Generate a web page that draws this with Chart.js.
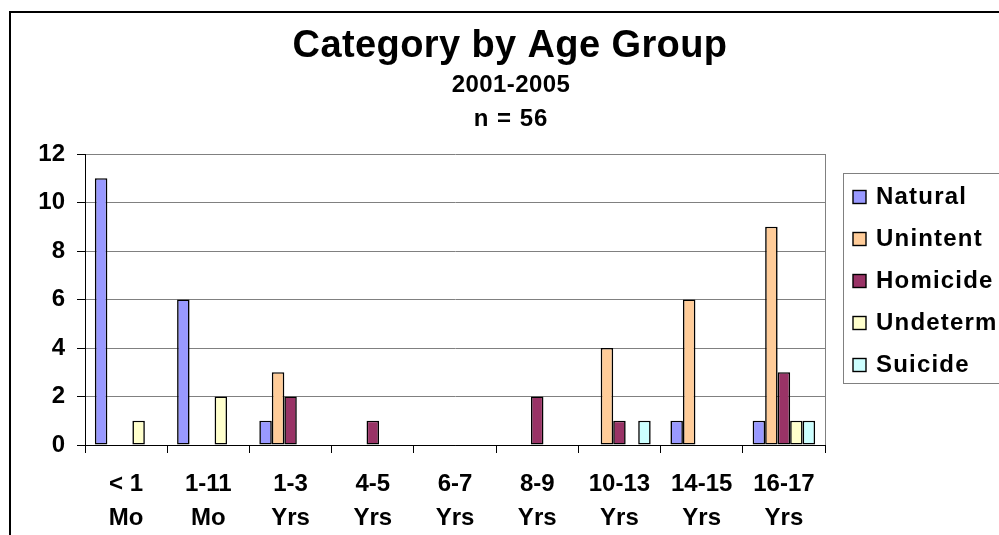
<!DOCTYPE html>
<html>
<head>
<meta charset="utf-8">
<title>Category by Age Group</title>
<script src="https://cdn.jsdelivr.net/npm/chart.js@4/dist/chart.umd.min.js"></script>
<style>
  html, body { margin: 0; padding: 0; background: #fff; overflow: hidden; }
  #wrap { width: 1020px; height: 535px; }
</style>
</head>
<body>
<div id="wrap"><canvas id="chart" width="1020" height="535"></canvas></div>
<script>
// Age groups (two-line axis labels)
const ageGroups = [
  ['< 1', 'Mo'], ['1-11', 'Mo'], ['1-3', 'Yrs'], ['4-5', 'Yrs'], ['6-7', 'Yrs'],
  ['8-9', 'Yrs'], ['10-13', 'Yrs'], ['14-15', 'Yrs'], ['16-17', 'Yrs']
];

// Deaths per manner, by age group
const natural   = [11, 6, 1, 0, 0, 0, 0, 1, 1];
const unintent  = [0, 0, 3, 0, 0, 0, 4, 6, 9];
const homicide  = [0, 0, 2, 1, 0, 2, 1, 0, 3];
const undeterm  = [1, 2, 0, 0, 0, 0, 0, 0, 1];
const suicide   = [0, 0, 0, 0, 0, 0, 1, 0, 1];

const seriesNames = ['Natural', 'Unintent', 'Homicide', 'Undeterm', 'Suicide'];
const seriesColors = ['#9999FF', '#FFCC99', '#993366', '#FFFFCC', '#CCFFFF'];

const yMax = 12;
const yStep = 2;

const titleText = 'Category by Age Group';
const subtitleLines = ['2001-2005', 'n = 56'];

const FONT = '"Liberation Sans", Arial, sans-serif';

const datasets = [natural, unintent, homicide, undeterm, suicide].map((values, i) => ({
  label: seriesNames[i],
  data: values,
  backgroundColor: seriesColors[i],
  borderColor: '#000',
  borderWidth: 1.6,
  borderSkipped: false,
  categoryPercentage: 0.76,
  barPercentage: 1.0
}));

// Frame, headings, plot outline and boxed legend
const decorations = {
  id: 'decorations',
  beforeDraw(chart) {
    const ctx = chart.ctx;
    ctx.save();
    ctx.fillStyle = '#fff';
    ctx.fillRect(0, 0, chart.width, chart.height);
    ctx.restore();
  },
  afterDraw(chart) {
    const ctx = chart.ctx;
    const area = chart.chartArea;
    ctx.save();

    // outer frame
    ctx.strokeStyle = '#000';
    ctx.lineWidth = 2;
    ctx.beginPath();
    ctx.moveTo(10, chart.height + 5);
    ctx.lineTo(10, 12);
    ctx.lineTo(chart.width + 5, 12);
    ctx.stroke();

    // plot area right edge
    ctx.strokeStyle = '#808080';
    ctx.lineWidth = 1;
    ctx.beginPath();
    ctx.moveTo(Math.round(area.right) + 0.5, area.top);
    ctx.lineTo(Math.round(area.right) + 0.5, area.bottom);
    ctx.stroke();

    // headings
    ctx.fillStyle = '#000';
    ctx.textAlign = 'center';
    ctx.textBaseline = 'alphabetic';
    ctx.font = 'bold 38px ' + FONT;
    ctx.letterSpacing = '0.4px';
    ctx.fillText(titleText, 510, 57);
    ctx.font = 'bold 24px ' + FONT;
    ctx.letterSpacing = '0.4px';
    ctx.fillText(subtitleLines[0], 511, 92);
    ctx.letterSpacing = '1px';
    ctx.fillText(subtitleLines[1], 511, 126);

    // legend
    const lx = 843.5, ly = 173.5, lw = 170, lh = 210;
    ctx.strokeStyle = '#808080';
    ctx.lineWidth = 1;
    ctx.strokeRect(lx, ly, lw, lh);
    ctx.font = 'bold 24px ' + FONT;
    ctx.letterSpacing = '1.2px';
    ctx.textAlign = 'left';
    ctx.textBaseline = 'middle';
    chart.data.datasets.forEach((ds, i) => {
      const cy = 197 + i * 42;
      ctx.fillStyle = ds.backgroundColor;
      ctx.fillRect(853, cy - 6.5, 13, 13);
      ctx.strokeStyle = '#000';
      ctx.lineWidth = 1.4;
      ctx.strokeRect(853, cy - 6.5, 13, 13);
      ctx.fillStyle = '#000';
      ctx.fillText(ds.label, 876, cy);
    });
    ctx.restore();
  }
};

new Chart(document.getElementById('chart'), {
  type: 'bar',
  data: { labels: ageGroups, datasets },
  options: {
    responsive: false,
    animation: false,
    layout: { padding: { top: 154, right: 195, left: 0, bottom: 0 } },
    plugins: {
      legend: { display: false },
      title: { display: false },
      tooltip: { enabled: false }
    },
    scales: {
      x: {
        afterFit(scale) { scale.height = 90; },
        grid: {
          display: true,
          offset: true,
          drawOnChartArea: false,
          drawTicks: true,
          tickLength: 8,
          tickColor: '#000'
        },
        border: { display: true, color: '#000', width: 1 },
        ticks: {
          color: '#000',
          padding: 14,
          maxRotation: 0,
          autoSkip: false,
          font: { family: FONT, size: 24, weight: 'bold', lineHeight: '34px' }
        }
      },
      y: {
        min: 0,
        max: yMax,
        afterFit(scale) { scale.width = 85; },
        grid: {
          color: ctx => (ctx.tick && ctx.tick.value === 0 ? '#000' : '#808080'),
          lineWidth: 1,
          drawTicks: true,
          tickLength: 8,
          tickColor: '#000'
        },
        border: { display: true, color: '#000', width: 1 },
        ticks: {
          stepSize: yStep,
          color: '#000',
          padding: 12,
          font: { family: FONT, size: 24, weight: 'bold' }
        }
      }
    }
  },
  plugins: [decorations]
});
</script>
</body>
</html>
